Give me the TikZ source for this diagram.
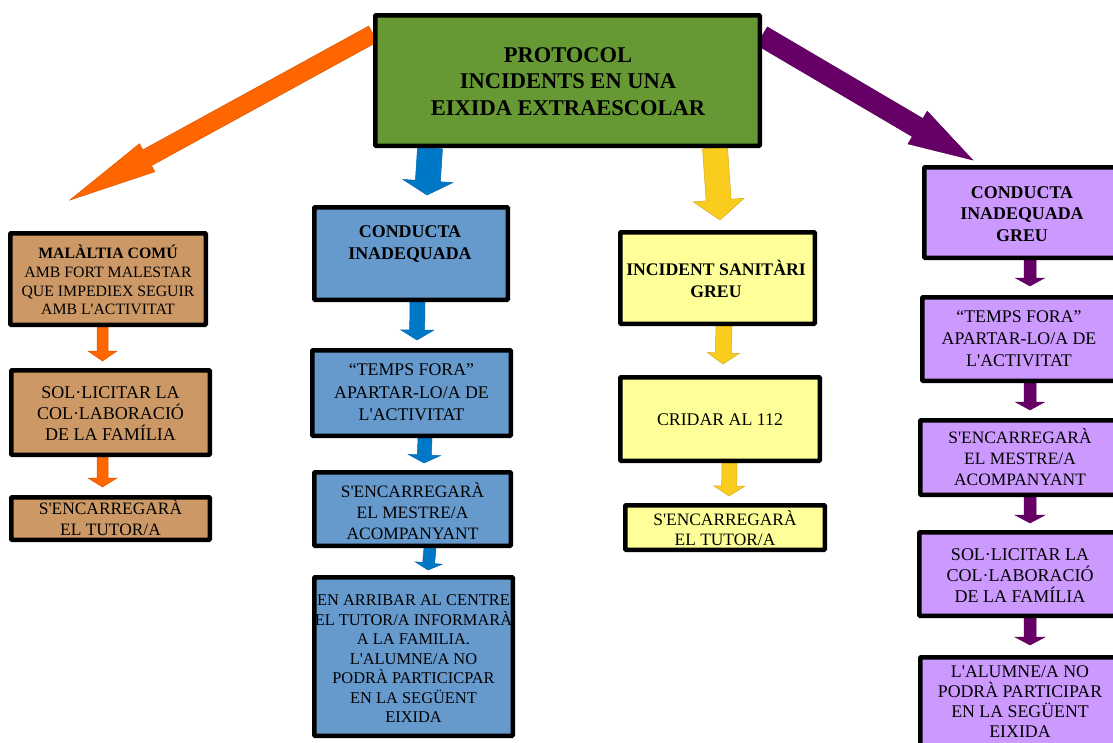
\documentclass[tikz,border=0pt]{standalone}
\usepackage{fontspec}
\newfontfamily\lib{Liberation Serif}
\usetikzlibrary{calc}
\pgfdeclarelayer{background}
\pgfsetlayers{background,main}
\definecolor{greenT}{RGB}{102,153,51}
\definecolor{brownB}{RGB}{204,153,102}
\definecolor{blueB}{RGB}{102,153,204}
\definecolor{yellowB}{RGB}{255,255,153}
\definecolor{purpleB}{RGB}{204,153,255}
\definecolor{orangeA}{RGB}{255,102,0}
\definecolor{blueA}{RGB}{0,120,200}
\definecolor{yellowA}{RGB}{250,204,30}
\definecolor{purpleA}{RGB}{102,0,102}
% block arrow: style, start, tip, shaft width, head width, head length
\newcommand{\barrow}[6]{%
  \coordinate (bas) at #2;
  \coordinate (bat) at #3;
  \coordinate (ban) at ($(bat)!#6!(bas)$);
  \filldraw[#1] ($(bas)!#4/2!90:(bat)$) -- ($(ban)!#4/2!90:(bat)$) --
    ($(ban)!#5/2!90:(bat)$) -- (bat) -- ($(ban)!#5/2!-90:(bat)$) --
    ($(ban)!#4/2!-90:(bat)$) -- ($(bas)!#4/2!-90:(bat)$) -- cycle;
}
\tikzset{
  box/.style={draw=black, line width=4.5pt, inner sep=0pt, rounded corners=0.8pt},
  txt/.style={align=center, inner sep=0pt, text=black},
  oarr/.style={fill=orangeA, draw=orangeA!85!black, line width=0.5pt, line join=miter},
  barr/.style={fill=blueA, draw=blueA!85!black, line width=0.5pt},
  yarr/.style={fill=yellowA, draw=yellowA!85!black, line width=0.5pt},
  parr/.style={fill=purpleA, draw=purpleA!85!black, line width=0.5pt},
}
\begin{document}
\begin{tikzpicture}[x=1pt, y=-1pt, font=\lib]
\useasboundingbox (0,0) rectangle (1113,742);
\clip (0,0) rectangle (1113,742);

% title
\node[box, fill=greenT, minimum width=384.5pt, minimum height=130.5pt] (g) at (567.5,80.5) {};
\node[txt, font=\lib\bfseries\fontsize{22.5}{26.5}\selectfont] (gt) at (568,81.5) {PROTOCOL\\INCIDENTS EN UNA\\EIXIDA EXTRAESCOLAR};

% column 1
\node[box, fill=brownB, minimum width=195.5pt, minimum height=91.5pt] (b1) at (108,279) {};
\node[txt, font=\lib\fontsize{15.8}{18.7}\selectfont] (b1t) at (108,280) {\textbf{MALÀLTIA COMÚ}\\AMB FORT MALESTAR\\QUE IMPEDIEX SEGUIR\\AMB L'ACTIVITAT};
\node[box, fill=brownB, minimum width=198.5pt, minimum height=84.5pt] (b2) at (110.5,412.5) {};
\node[txt, font=\lib\fontsize{18}{21}\selectfont] (b2t) at (110.5,414) {SOL·LICITAR LA\\COL·LABORACIÓ\\DE LA FAMÍLIA};
\node[box, fill=brownB, minimum width=198.5pt, minimum height=42.5pt] (b3) at (110.5,518.5) {};
\node[txt, font=\lib\fontsize{17.4}{21}\selectfont] (b3t) at (110.5,517.5) {S'ENCARREGARÀ\\EL TUTOR/A};

% column 2
\node[box, fill=blueB, minimum width=193.5pt, minimum height=92.5pt] (c1) at (411,253.5) {};
\node[txt, font=\lib\bfseries\fontsize{17.9}{22}\selectfont] (c1t) at (410,244) {CONDUCTA\\INADEQUADA};
\node[box, fill=blueB, minimum width=198.5pt, minimum height=85.5pt] (c2) at (411.5,393) {};
\node[txt, font=\lib\fontsize{17.8}{22.5}\selectfont] (c2t) at (411.5,392.5) {“TEMPS FORA”\\APARTAR-LO/A DE\\L'ACTIVITAT};
\node[box, fill=blueB, minimum width=196.5pt, minimum height=73.5pt] (c3) at (412.5,509) {};
\node[txt, font=\lib\fontsize{17.4}{21}\selectfont] (c3t) at (412.5,511) {S'ENCARREGARÀ\\EL MESTRE/A\\ACOMPANYANT};
\node[box, fill=blueB, minimum width=198.5pt, minimum height=158.5pt] (c4) at (413.5,656.5) {};
\node[txt, font=\lib\fontsize{16.4}{19.5}\selectfont] (c4t) at (413.5,659) {EN ARRIBAR AL CENTRE\\EL TUTOR/A INFORMARÀ\\A LA FAMILIA.\\L'ALUMNE/A NO\\PODRÀ PARTICICPAR\\EN LA SEGÜENT\\EIXIDA};

% column 3
\node[box, fill=yellowB, minimum width=194.5pt, minimum height=91.5pt] (d1) at (717.5,278) {};
\node[txt, font=\lib\bfseries\fontsize{17.7}{22}\selectfont] (d1t) at (716,279) {INCIDENT SANITÀRI\\GREU};
\node[box, fill=yellowB, minimum width=199.5pt, minimum height=83.5pt] (d2) at (720,419) {};
\node[txt, font=\lib\fontsize{17.8}{21}\selectfont] (d2t) at (720,420) {CRIDAR AL 112};
\node[box, fill=yellowB, minimum width=199.5pt, minimum height=44.5pt] (d3) at (725,527.5) {};
\node[txt, font=\lib\fontsize{17.4}{20}\selectfont] (d3t) at (725,528) {S'ENCARREGARÀ\\EL TUTOR/A};

% column 4
\node[box, fill=purpleB, minimum width=195.5pt, minimum height=90.5pt] (e1) at (1022,212.5) {};
\node[txt, font=\lib\bfseries\fontsize{17.9}{21.5}\selectfont] (e1t) at (1022,214) {CONDUCTA\\INADEQUADA\\GREU};
\node[box, fill=purpleB, minimum width=197.5pt, minimum height=83.5pt] (e2) at (1021,339) {};
\node[txt, font=\lib\fontsize{17.8}{22}\selectfont] (e2t) at (1019,339) {“TEMPS FORA”\\APARTAR-LO/A DE\\L'ACTIVITAT};
\node[box, fill=purpleB, minimum width=199.5pt, minimum height=74.5pt] (e3) at (1020,457.5) {};
\node[txt, font=\lib\fontsize{17.4}{21}\selectfont] (e3t) at (1020,457.5) {S'ENCARREGARÀ\\EL MESTRE/A\\ACOMPANYANT};
\node[box, fill=purpleB, minimum width=200.5pt, minimum height=83.5pt] (e4) at (1019.5,574) {};
\node[txt, font=\lib\fontsize{18}{21}\selectfont] (e4t) at (1020,576) {SOL·LICITAR LA\\COL·LABORACIÓ\\DE LA FAMÍLIA};
\node[box, fill=purpleB, minimum width=199.5pt, minimum height=90.5pt] (e5) at (1020,702.5) {};
\node[txt, font=\lib\fontsize{17.8}{20}\selectfont] (e5t) at (1020,702) {L'ALUMNE/A NO\\PODRÀ PARTICIPAR\\EN LA SEGÜENT\\EIXIDA};

\begin{pgfonlayer}{background}
\fill[white] (0,0) rectangle (1113,742);
% big arrows from title
\barrow{oarr}{($(g.north west)+(0,21)$)}{($(b1.north)+(-38,-31)$)}{18pt}{32pt}{88pt}
\barrow{parr}{($(g.north east)+(0,23)$)}{($(e1.north west)+(50.75,-5)$)}{21pt}{38pt}{64pt}
\barrow{barr}{($(g.south)+(-137.5,0)$)}{($(c1.north)+(16,-10)$)}{25pt}{50pt}{14pt}
\barrow{yarr}{($(g.south)+(147.5,0)$)}{($(d1.north)+(2.5,-10)$)}{25pt}{51pt}{20pt}
% column 1
\barrow{oarr}{($(b1.south)+(-5.5,0)$)}{($(b2.north)+(-8,-7)$)}{11pt}{29pt}{10pt}
\barrow{oarr}{($(b2.south)+(-8,0)$)}{($(b3.north)+(-8,-8)$)}{11pt}{29pt}{9pt}
% column 2
\barrow{barr}{($(c1.south)+(6.5,0)$)}{($(c2.north)+(5.5,-8)$)}{15pt}{33pt}{10pt}
\barrow{barr}{($(c2.south)+(13.5,0)$)}{($(c3.north)+(11.5,-7)$)}{14pt}{32pt}{8pt}
\barrow{barr}{($(c3.south)+(17.5,0)$)}{($(c4.north)+(14.5,-5)$)}{12pt}{27pt}{7pt}
% column 3
\barrow{yarr}{($(d1.south)+(6.5,0)$)}{($(d2.north)+(3,-11)$)}{16pt}{32pt}{11pt}
\barrow{yarr}{($(d2.south)+(9.5,0)$)}{($(d3.north)+(4,-7)$)}{15pt}{31pt}{10pt}
% column 4
\barrow{parr}{($(e1.south)+(8,0)$)}{($(e2.north)+(9,-9)$)}{12pt}{29pt}{8pt}
\barrow{parr}{($(e2.south)+(9,0)$)}{($(e3.north)+(10,-8)$)}{12pt}{29pt}{8pt}
\barrow{parr}{($(e3.south)+(10,0)$)}{($(e4.north)+(10.5,-7)$)}{12pt}{30pt}{8pt}
\barrow{parr}{($(e4.south)+(10.5,0)$)}{($(e5.north)+(10,-10)$)}{12pt}{30pt}{8pt}
\end{pgfonlayer}
\end{tikzpicture}
\end{document}
